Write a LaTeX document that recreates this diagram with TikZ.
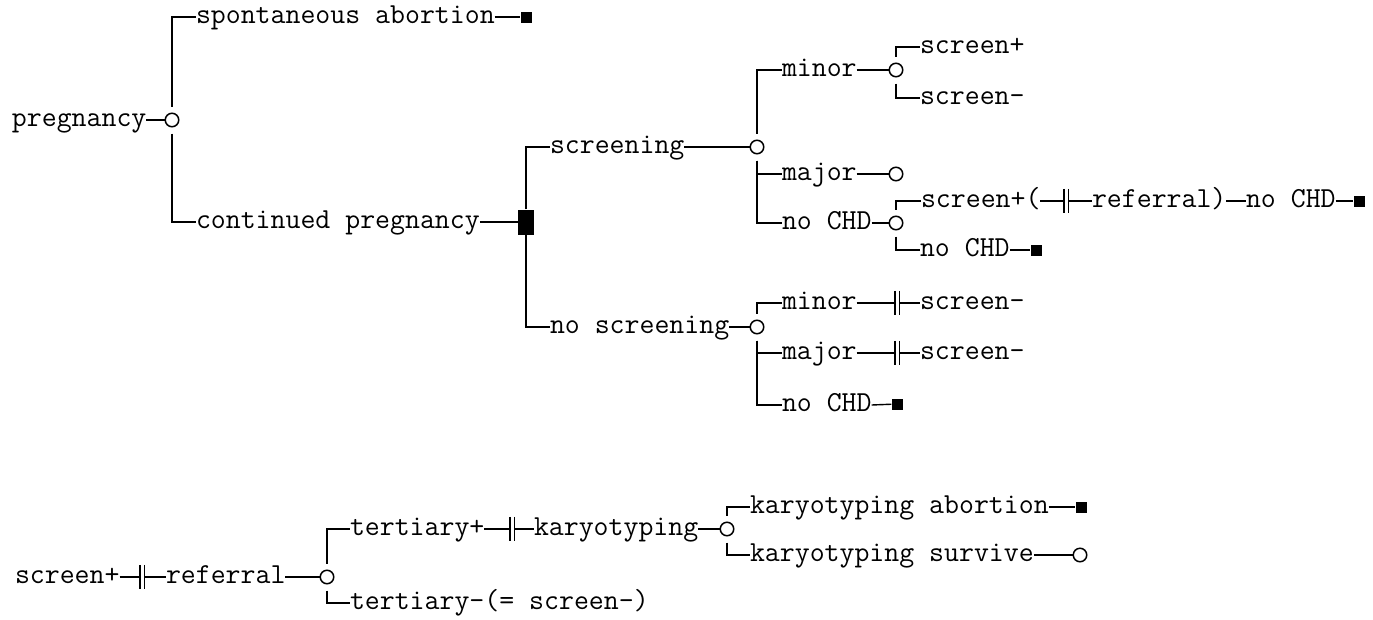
\documentclass[tikz,border=0pt]{standalone}
\newcommand\dblbar[3]{%
  \node[dbar] (#1) at (#2,#3) {};
  \draw[conn] (#1.north west) -- (#1.south west) (#1.north east) -- (#1.south east);}
\begin{document}
\begin{tikzpicture}[x=1pt,y=-1pt,
  txt/.style={font=\fontsize{29}{30}\selectfont\ttfamily, inner sep=0pt, outer sep=0pt,
              text height=18pt, text depth=5.5pt, anchor=west},
  conn/.style={line width=1.4pt},
  chance/.style={circle, draw, line width=1.5pt, minimum size=13.5pt, inner sep=0pt, fill=white},
  term/.style={rectangle, fill=black, minimum size=11pt, inner sep=0pt},
  decision/.style={rectangle, fill=black, minimum width=16pt, minimum height=25pt, inner sep=0pt},
  dbar/.style={rectangle, minimum width=4pt, minimum height=24pt, inner sep=0pt},
  gap/.style={shorten <=6pt},
]
\useasboundingbox (0,0) rectangle (1373,619);

% ---------- main tree ----------
\node[txt] (preg) at (12,120) {pregnancy};
\node[chance] (P) at (172,120) {};
\draw[conn] (preg.east) -- (P);

\node[txt] (spab) at (196,17) {spontaneous abortion};
\node[term] (T1) at (526,17) {};
\draw[conn,gap] (P) |- (spab.west);
\draw[conn] (spab.east) -- (T1);

\node[txt] (cont) at (196,222) {continued pregnancy};
\node[decision] (D) at (526,222) {};
\draw[conn,gap] (P) |- (cont.west);
\draw[conn] (cont.east) -- (D);

\node[txt] (scr) at (550,147) {screening};
\node[chance] (S) at (757,147) {};
\draw[conn] (D) |- (scr.west);
\draw[conn] (scr.east) -- (S);

\node[txt] (nscr) at (550,327) {no screening};
\node[chance] (NS) at (757,327) {};
\draw[conn] (D) |- (nscr.west);
\draw[conn] (nscr.east) -- (NS);

% screening children
\node[txt] (mi1) at (782,70) {minor};
\node[chance] (Mi) at (896,70) {};
\node[txt] (ma1) at (782,174) {major};
\node[chance] (Ma) at (896,174) {};
\node[txt] (nc1) at (782,223) {no CHD};
\node[chance] (NC) at (896,223) {};
\draw[conn,gap] (S) |- (mi1.west);
\draw[conn,gap] (S) |- (ma1.west);
\draw[conn,gap] (S) |- (nc1.west);
\draw[conn] (mi1.east) -- (Mi);
\draw[conn] (ma1.east) -- (Ma);
\draw[conn] (nc1.east) -- (NC);

% minor children
\node[txt] (sp1) at (920,47) {screen+};
\node[txt] (sm1) at (920,98) {screen-};
\draw[conn,gap] (Mi) |- (sp1.west);
\draw[conn,gap] (Mi) |- (sm1.west);

% no CHD children
\node[txt] (sp2) at (921,201) {screen+(};
\dblbar{db1}{1066}{201}
\node[txt] (ref1) at (1092,201) {referral)};
\node[txt] (nc2) at (1246,201) {no CHD};
\node[term] (T2) at (1359,201) {};
\draw[conn,gap] (NC) |- (sp2.west);
\draw[conn] (sp2.east) -- (db1.west);
\draw[conn] (db1.east) -- (ref1.west);
\draw[conn] (ref1.east) -- (nc2.west);
\draw[conn] (nc2.east) -- (T2);

\node[txt] (nc3) at (920,250) {no CHD};
\node[term] (T3) at (1036,250) {};
\draw[conn,gap] (NC) |- (nc3.west);
\draw[conn] (nc3.east) -- (T3);

% no screening children
\node[txt] (mi2) at (782,303) {minor};
\dblbar{db2}{897}{303}
\node[txt] (sm2) at (920,303) {screen-};
\node[txt] (ma2) at (782,353) {major};
\dblbar{db3}{897}{353}
\node[txt] (sm3) at (920,353) {screen-};
\node[txt] (nc4) at (782,405) {no CHD};
\node[term] (T4) at (897,404) {};
\draw[conn,gap] (NS) |- (mi2.west);
\draw[conn,gap] (NS) |- (ma2.west);
\draw[conn,gap] (NS) |- (nc4.west);
\draw[conn] (mi2.east) -- (db2.west);
\draw[conn] (db2.east) -- (sm2.west);
\draw[conn] (ma2.east) -- (db3.west);
\draw[conn] (db3.east) -- (sm3.west);
\draw[conn] (nc4.east) -- (T4);

% ---------- referral subtree ----------
\node[txt] (sp3) at (15,577) {screen+};
\dblbar{db4}{142}{577}
\node[txt] (ref2) at (166,577) {referral};
\node[chance] (R) at (327,577) {};
\draw[conn] (sp3.east) -- (db4.west);
\draw[conn] (db4.east) -- (ref2.west);
\draw[conn] (ref2.east) -- (R);

\node[txt] (ter1) at (350,529) {tertiary+};
\dblbar{db5}{512}{529}
\node[txt] (kar) at (534,529) {karyotyping};
\node[chance] (K) at (727,529) {};
\draw[conn,gap] (R) |- (ter1.west);
\draw[conn] (ter1.east) -- (db5.west);
\draw[conn] (db5.east) -- (kar.west);
\draw[conn] (kar.east) -- (K);

\node[txt] (ter2) at (350,603) {tertiary-(= screen-)};
\draw[conn,gap] (R) |- (ter2.west);

\node[txt] (ka1) at (750,507) {karyotyping abortion};
\node[term] (T5) at (1081,507) {};
\node[txt] (ka2) at (750,555) {karyotyping survive};
\node[chance] (E1) at (1080,555) {};
\draw[conn,gap] (K) |- (ka1.west);
\draw[conn,gap] (K) |- (ka2.west);
\draw[conn] (ka1.east) -- (T5);
\draw[conn] (ka2.east) -- (E1);
\end{tikzpicture}
\end{document}
